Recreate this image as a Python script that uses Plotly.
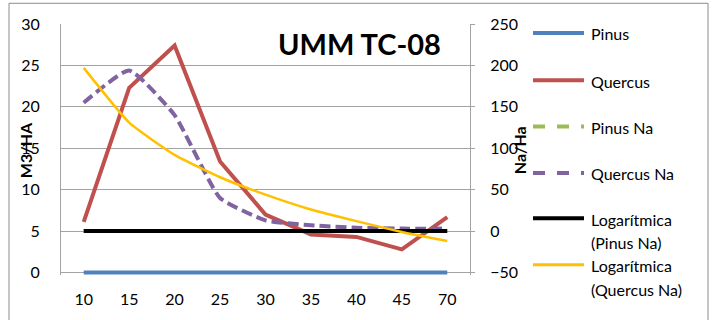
import plotly.graph_objects as go

categories = ["10", "15", "20", "25", "30", "35", "40", "45", "70"]
pinus = [0, 0, 0, 0, 0, 0, 0, 0, 0]
quercus = [6.1, 22.3, 27.4, 13.4, 7.0, 4.6, 4.3, 2.8, 6.7]
pinus_na = [0, 0, 0, 0, 0, 0, 0, 0, 0]
quercus_na = [155, 194, 140, 40, 13, 7, 4, 3, 3]
log_pinus_na = [0, 0, 0, 0, 0, 0, 0, 0, 0]
log_quercus_na = [197, 131, 92, 65, 44, 26, 12, -1, -12]
legend_names = [["Pinus"], ["Quercus"], ["Pinus Na"], ["Quercus Na"],
                ["Logarítmica", "(Pinus Na)"], ["Logarítmica", "(Quercus Na)"]]

W, H = 716, 320
# plot area: y=30 at 24px, y=0 at 276px (8.4 px per unit); extended 0.3 units below 0
EXT = 0.3
L, R, T = 61, 246, 24
PH = 252 + EXT * 8.4
B = H - T - PH
PW = W - L - R
FONT = "Lato, Calibri, sans-serif"
GRID = "#a3a3a3"


def px(x):
    return (x - L) / PW


def py(y):
    return (H - B - y) / PH


series = [
    dict(y=pinus, axis="y", color="#4F81BD", dash="solid", width=4, shape="linear"),
    dict(y=quercus, axis="y", color="#C0504D", dash="solid", width=4, shape="linear"),
    dict(y=pinus_na, axis="y2", color="#9BBB59", dash="11px,5px", width=4, shape="linear"),
    dict(y=quercus_na, axis="y2", color="#8064A2", dash="11px,5px", width=4, shape="spline"),
    dict(y=log_pinus_na, axis="y2", color="#000000", dash="solid", width=4, shape="linear"),
    dict(y=log_quercus_na, axis="y2", color="#FFC000", dash="solid", width=2.5, shape="spline"),
]

fig = go.Figure()
for s, nm in zip(series, legend_names):
    fig.add_trace(go.Scatter(
        x=categories, y=s["y"], yaxis=s["axis"], name=" ".join(nm), mode="lines",
        line=dict(color=s["color"], dash=s["dash"], width=s["width"], shape=s["shape"], smoothing=0.45),
        showlegend=False, hoverinfo="skip",
    ))

# manual legend (Excel-like layout)
legend_y = [33, 81, 128, 175, 221, 268]
shapes = []
annotations = []
for s, nm, ly in zip(series, legend_names, legend_y):
    shapes.append(dict(type="line", xref="paper", yref="paper",
                       x0=px(533), x1=px(584), y0=py(ly), y1=py(ly),
                       line=dict(color=s["color"], width=4 if s["width"] > 3 else 3,
                                 dash="dash" if "px" in s["dash"] else "solid")))
    for i, line in enumerate(nm):
        annotations.append(dict(text=line, xref="paper", yref="paper",
                                x=px(589), y=py(ly + 1 + i * 24), xanchor="left", yanchor="middle",
                                align="left", showarrow=False,
                                font=dict(family=FONT, size=16, color="#000000")))

# outer chart border
shapes.append(dict(type="rect", xref="paper", yref="paper",
                   x0=px(9), x1=px(708), y0=py(330), y1=py(3),
                   line=dict(color="#8c8c8c", width=1), layer="below"))

annotations += [
    dict(text="<b>UMM TC-08</b>", xref="paper", yref="paper", x=px(443), y=py(44),
         xanchor="right", yanchor="middle", showarrow=False,
         font=dict(family=FONT, size=29, color="#000000")),
    dict(text="<b>M3/HA</b>", xref="paper", yref="paper", x=px(25), y=py(152),
         xanchor="center", yanchor="middle", textangle=-90, showarrow=False,
         font=dict(family=FONT, size=16, color="#000000")),
    dict(text="<b>Na/Ha</b>", xref="paper", yref="paper", x=px(519), y=py(152),
         xanchor="center", yanchor="middle", textangle=-90, showarrow=False,
         font=dict(family=FONT, size=16, color="#000000")),
]

fig.update_layout(
    width=W, height=H,
    margin=dict(l=L, r=R, t=T, b=B, pad=0),
    paper_bgcolor="white", plot_bgcolor="white",
    font=dict(family=FONT, size=16, color="#000000"),
    showlegend=False,
    xaxis=dict(type="category", range=[-0.5, 8.5], showgrid=False, showline=False,
               ticks="", ticklabelstandoff=13, zeroline=False,
               tickfont=dict(family=FONT, size=16)),
    yaxis=dict(range=[-EXT, 30], tick0=0, dtick=5, showgrid=True, gridcolor=GRID, gridwidth=1,
               showline=True, linecolor=GRID, linewidth=1, zeroline=False,
               ticks="", ticklabelstandoff=17, tickfont=dict(family=FONT, size=16)),
    yaxis2=dict(range=[-50 - EXT * 10, 250], tick0=0, dtick=50, overlaying="y", side="right",
                showgrid=False, showline=True, linecolor=GRID, linewidth=1, zeroline=False,
                ticks="outside", ticklen=4, tickcolor=GRID, ticklabelstandoff=12,
                tickfont=dict(family=FONT, size=16)),
    shapes=shapes,
    annotations=annotations,
)

fig.write_html("out.html")
